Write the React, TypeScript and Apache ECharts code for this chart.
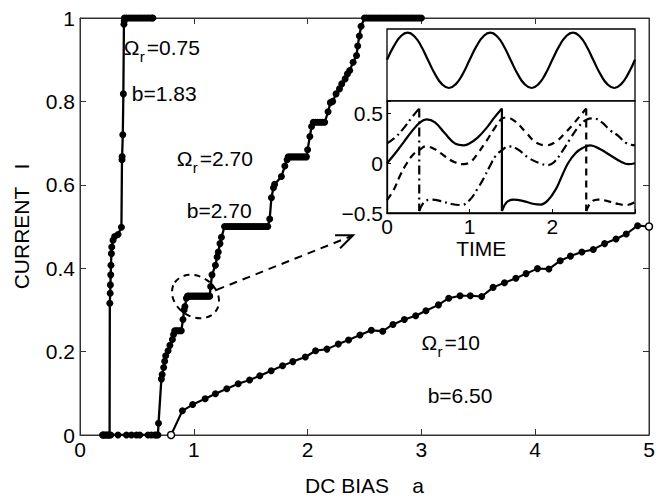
import React, { useEffect, useRef } from "react";
import * as echarts from "echarts";

const FONT = "'Liberation Sans', Arial, Helvetica, sans-serif";
const FS = 21;

// ---- tick labels ----
const xTickLabels = ["0", "1", "2", "3", "4", "5"];
const yTickLabels = ["0", "0.2", "0.4", "0.6", "0.8", "1"];
const insetXTickLabels = ["0", "1", "2"];
const insetYTickLabels = ["\u22120.5", "0", "0.5"];

// ---- main curves: [DC bias a, current I] ----
const omega075 = [
  [0.2, 0], [0.21, 0], [0.22, 0], [0.23, 0], [0.24, 0], [0.25, 0], [0.26, 0],
  [0.262, 0.316], [0.265, 0.34], [0.267, 0.36], [0.27, 0.384], [0.272, 0.407], [0.276, 0.435],
  [0.279, 0.451], [0.29, 0.467], [0.305, 0.476], [0.334, 0.481], [0.364, 0.498],
  [0.369, 0.66], [0.37, 0.668], [0.376, 0.72], [0.381, 0.818], [0.386, 0.985], [0.389, 0.993],
  [0.39, 1], [0.41, 1], [0.43, 1], [0.45, 1], [0.47, 1], [0.49, 1], [0.51, 1], [0.53, 1],
  [0.55, 1], [0.57, 1], [0.59, 1], [0.61, 1], [0.63, 1], [0.64, 1],
];

const omega270 = [
  [0.2, 0], [0.27, 0], [0.334, 0], [0.408, 0], [0.452, 0], [0.496, 0], [0.525, 0], [0.598, 0],
  [0.627, 0], [0.656, 0], [0.67, 0], [0.685, 0], [0.69, 0.028],
  [0.715, 0.134], [0.722, 0.145], [0.735, 0.162], [0.744, 0.177], [0.753, 0.19], [0.774, 0.202],
  [0.79, 0.215], [0.812, 0.229], [0.822, 0.241],
  [0.832, 0.25], [0.845, 0.25], [0.86, 0.25], [0.875, 0.25], [0.89, 0.25],
  [0.905, 0.277], [0.915, 0.3], [0.922, 0.308], [0.935, 0.328],
  [0.945, 0.333], [0.96, 0.333], [0.975, 0.333], [0.99, 0.333], [1.005, 0.333], [1.02, 0.333],
  [1.035, 0.333], [1.05, 0.333], [1.065, 0.333], [1.08, 0.333], [1.095, 0.333], [1.11, 0.333],
  [1.125, 0.333], [1.14, 0.333],
  [1.148, 0.356], [1.16, 0.384], [1.19, 0.407], [1.205, 0.427], [1.215, 0.439], [1.23, 0.459],
  [1.243, 0.474],
  [1.27, 0.5], [1.29, 0.5], [1.31, 0.5], [1.33, 0.5], [1.35, 0.5], [1.37, 0.5], [1.39, 0.5],
  [1.41, 0.5], [1.43, 0.5], [1.45, 0.5], [1.47, 0.5], [1.49, 0.5], [1.51, 0.5], [1.53, 0.5],
  [1.55, 0.5], [1.57, 0.5], [1.59, 0.5], [1.61, 0.5], [1.63, 0.5], [1.65, 0.5],
  [1.667, 0.518], [1.682, 0.569], [1.7, 0.593], [1.71, 0.601], [1.77, 0.62], [1.8, 0.645],
  [1.82, 0.66],
  [1.83, 0.667], [1.85, 0.667], [1.87, 0.667], [1.89, 0.667], [1.91, 0.667], [1.93, 0.667],
  [1.95, 0.667], [1.97, 0.667], [1.99, 0.667],
  [2.0, 0.684], [2.02, 0.716], [2.035, 0.74],
  [2.05, 0.75], [2.07, 0.75], [2.09, 0.75], [2.11, 0.75], [2.13, 0.75], [2.15, 0.75],
  [2.18, 0.775], [2.2, 0.797], [2.22, 0.8], [2.25, 0.818], [2.28, 0.83], [2.3, 0.842],
  [2.33, 0.854], [2.35, 0.866], [2.37, 0.874], [2.4, 0.894], [2.43, 0.91], [2.44, 0.933],
  [2.455, 0.957], [2.47, 0.98],
  [2.5, 1], [2.52, 1], [2.54, 1], [2.56, 1], [2.58, 1], [2.6, 1], [2.62, 1], [2.64, 1],
  [2.66, 1], [2.68, 1], [2.7, 1], [2.72, 1], [2.74, 1], [2.76, 1], [2.78, 1], [2.8, 1],
  [2.82, 1], [2.84, 1], [2.86, 1], [2.88, 1], [2.9, 1], [2.92, 1], [2.94, 1], [2.96, 1],
  [2.98, 1], [3.0, 1],
];

const omega10 = [
  [0.8, 0], [0.9, 0.058], [0.99, 0.073], [1.1, 0.087], [1.19, 0.099], [1.29, 0.111],
  [1.39, 0.123], [1.49, 0.132], [1.58, 0.142], [1.68, 0.154], [1.78, 0.166], [1.87, 0.176],
  [1.98, 0.187], [2.07, 0.202], [2.17, 0.206], [2.27, 0.218], [2.36, 0.228], [2.46, 0.24],
  [2.56, 0.251], [2.66, 0.249], [2.75, 0.265], [2.85, 0.277], [2.95, 0.286], [3.04, 0.298],
  [3.15, 0.312], [3.24, 0.328], [3.34, 0.334], [3.43, 0.334], [3.53, 0.332], [3.63, 0.354],
  [3.73, 0.365], [3.83, 0.376], [3.92, 0.387], [4.02, 0.399], [4.12, 0.398], [4.22, 0.418],
  [4.31, 0.429], [4.41, 0.439], [4.51, 0.445], [4.61, 0.459], [4.71, 0.47], [4.8, 0.482],
  [4.9, 0.502], [5.0, 0.5],
];

// ---- inset: drive signal (upper panel) [time, value] ----
const driveSignal = [
  [0, 0.02], [0.083, 0.51], [0.167, 0.87], [0.25, 1], [0.333, 0.86], [0.417, 0.49],
  [0.5, -0.02], [0.583, -0.51], [0.667, -0.87], [0.75, -1], [0.833, -0.86], [0.917, -0.49],
  [1.0, 0.02], [1.083, 0.51], [1.167, 0.87], [1.25, 1], [1.333, 0.86], [1.417, 0.49],
  [1.5, -0.02], [1.583, -0.51], [1.667, -0.87], [1.75, -1], [1.833, -0.86], [1.917, -0.49],
  [2.0, 0.02], [2.083, 0.51], [2.167, 0.87], [2.25, 1], [2.333, 0.86], [2.417, 0.49],
  [2.5, -0.02], [2.583, -0.51], [2.667, -0.87], [2.75, -1], [2.833, -0.86], [2.917, -0.49],
  [3.0, 0.02],
];

// ---- inset: phases (lower panel) [time, phase] ----
const solidA = [
  [0, 0], [0.1, 0.1], [0.2, 0.21], [0.3, 0.32], [0.4, 0.41], [0.48, 0.44], [0.58, 0.41],
  [0.7, 0.3], [0.82, 0.2], [0.93, 0.18], [1.0, 0.2], [1.1, 0.26], [1.2, 0.35], [1.3, 0.46],
  [1.39, 0.55],
];
const solidDrop = [[1.39, 0.55], [1.39, -0.48]];
const solidB = [
  [1.39, -0.48], [1.45, -0.39], [1.53, -0.365], [1.65, -0.38], [1.78, -0.41], [1.86, -0.415],
  [1.95, -0.37], [2.05, -0.25], [2.12, -0.12], [2.19, 0.0], [2.28, 0.1], [2.36, 0.15],
  [2.46, 0.18], [2.58, 0.14], [2.7, 0.08], [2.82, 0.02], [2.92, -0.01], [3.0, 0.0],
];
const dashDotA = [[0, 0.2], [0.1, 0.26], [0.2, 0.35], [0.3, 0.46], [0.39, 0.55]];
const dashDotDrop = [[0.39, 0.55], [0.39, -0.48]];
const dashDotB = [
  [0.39, -0.48], [0.45, -0.39], [0.53, -0.365], [0.65, -0.38], [0.78, -0.41], [0.9, -0.42],
  [1.0, -0.37], [1.1, -0.25], [1.17, -0.15], [1.25, -0.02], [1.32, 0.08], [1.39, 0.13],
  [1.47, 0.17], [1.58, 0.14], [1.72, 0.05], [1.85, 0.0], [1.94, -0.02], [2.02, 0.01],
  [2.12, 0.12], [2.22, 0.25], [2.32, 0.37], [2.42, 0.44], [2.5, 0.45], [2.6, 0.41],
  [2.7, 0.33], [2.79, 0.28], [2.9, 0.2], [3.0, 0.18],
];
const dashedA = [
  [0, -0.37], [0.08, -0.27], [0.16, -0.12], [0.24, 0.0], [0.32, 0.09], [0.39, 0.13],
  [0.47, 0.17], [0.58, 0.14], [0.7, 0.07], [0.82, 0.01], [0.93, -0.01], [1.02, 0.02],
  [1.1, 0.1], [1.2, 0.22], [1.3, 0.35], [1.38, 0.44], [1.45, 0.46], [1.55, 0.42],
  [1.68, 0.31], [1.8, 0.21], [1.93, 0.18], [2.05, 0.22], [2.15, 0.3], [2.25, 0.39],
  [2.33, 0.47], [2.41, 0.55],
];
const dashedDrop = [[2.41, 0.55], [2.41, -0.48]];
const dashedB = [
  [2.41, -0.48], [2.47, -0.39], [2.55, -0.365], [2.67, -0.38], [2.8, -0.41], [2.9, -0.42],
  [3.0, -0.39],
];

// ---- annotations (data coordinates of main plot) ----
const curveLabels = [
  { rest: "=0.75", omegaAt: [0.384, 0.93], b: "b=1.83", bAt: [0.455, 0.818] },
  { rest: "=2.70", omegaAt: [0.851, 0.662], b: "b=2.70", bAt: [0.938, 0.539] },
  { rest: "=10", omegaAt: [3.0, 0.221], b: "b=6.50", bAt: [3.055, 0.095] },
];
const circleCenter = [1.015, 0.332];
const arrowFrom = [1.2, 0.348];
const arrowTo = [2.4, 0.479];
const timeLabelAt = [1.14, -0.5];

export default function App() {
  const ref = useRef<HTMLDivElement>(null);

  useEffect(() => {
    document.body.style.margin = "0";
    const chart = echarts.init(ref.current!, null, { renderer: "svg" });
    const txt = { color: "#000", fontFamily: FONT, fontSize: FS };
    const frame = "#333";

    const mainLine = (data: any[], lw = 2.3) => ({
      type: "line",
      xAxisIndex: 0,
      yAxisIndex: 0,
      data,
      symbol: "circle",
      symbolSize: 7,
      showAllSymbol: true,
      lineStyle: { color: "#000", width: lw },
      itemStyle: { color: "#000" },
      z: 3,
      silent: true,
    });
    const insetLine = (data: any[], type: any, smooth: any) => ({
      type: "line",
      xAxisIndex: 3,
      yAxisIndex: 3,
      data,
      symbol: "none",
      smooth,
      lineStyle: { color: "#000", width: 2.2, type },
      z: 10,
      silent: true,
    });
    const DASH = [7, 5];
    const DASHDOT = [9, 4, 2, 4];

    const openPt = { color: "#fff", borderColor: "#000", borderWidth: 1.5 };
    const omega10Data = omega10.map((p, i) =>
      i === omega10.length - 1 || i === 0 ? { value: p, itemStyle: openPt } : p
    );

    chart.setOption({
      animation: false,
      backgroundColor: "#fff",
      grid: [
        { left: 80, right: 13, top: 18, bottom: 61, show: true, borderColor: frame, borderWidth: 1, backgroundColor: "transparent" },
        { left: 387, top: 29, width: 248, height: 72, show: true, borderColor: "#000", borderWidth: 1.3, backgroundColor: "#fff" },
        { left: 387, top: 101, width: 248, height: 112, show: true, borderColor: "#000", borderWidth: 1.3, backgroundColor: "#fff" },
      ],
      xAxis: [
        {
          type: "value", gridIndex: 0, min: 0, max: 5, interval: 1, position: "bottom",
          axisLine: { show: true, onZero: false, lineStyle: { color: frame, width: 1 } },
          axisTick: { show: true, inside: true, length: 6, lineStyle: { color: frame } },
          axisLabel: { ...txt, margin: 4, formatter: (v: number) => xTickLabels[Math.round(v)] ?? "" },
          splitLine: { show: false },
          name: "DC BIAS    a", nameLocation: "middle", nameGap: 40, nameTextStyle: { ...txt },
        },
        {
          type: "value", gridIndex: 0, min: 0, max: 5, interval: 1, position: "top",
          axisLine: { show: true, onZero: false, lineStyle: { color: frame, width: 1 } },
          axisTick: { show: true, inside: true, length: 6, lineStyle: { color: frame } },
          axisLabel: { show: false },
          splitLine: { show: false },
        },
        { type: "value", gridIndex: 1, min: 0, max: 3, show: false },
        {
          type: "value", gridIndex: 2, min: 0, max: 3, interval: 1,
          axisLine: { show: true, onZero: false, lineStyle: { color: "#000", width: 1.3 } },
          axisTick: { show: true, inside: true, length: 4, lineStyle: { color: "#000" } },
          axisLabel: { ...txt, margin: 3, formatter: (v: number) => insetXTickLabels[Math.round(v)] ?? "" },
          splitLine: { show: false },
        },
      ],
      yAxis: [
        {
          type: "value", gridIndex: 0, min: 0, max: 1, interval: 0.2, position: "left",
          axisLine: { show: true, onZero: false, lineStyle: { color: frame, width: 1 } },
          axisTick: { show: true, inside: true, length: 6, lineStyle: { color: frame } },
          axisLabel: { ...txt, margin: 5, formatter: (v: number) => yTickLabels[Math.round(v * 5)] ?? "" },
          splitLine: { show: false },
          name: "CURRENT   I", nameLocation: "middle", nameRotate: 90, nameGap: 48, nameTextStyle: { ...txt },
        },
        {
          type: "value", gridIndex: 0, min: 0, max: 1, interval: 0.2, position: "right",
          axisLine: { show: true, onZero: false, lineStyle: { color: frame, width: 1 } },
          axisTick: { show: true, inside: true, length: 6, lineStyle: { color: frame } },
          axisLabel: { show: false },
          splitLine: { show: false },
        },
        { type: "value", gridIndex: 1, min: -1.47, max: 1.13, show: false },
        {
          type: "value", gridIndex: 2, min: -0.5, max: 0.625, interval: 0.5,
          axisLine: { show: true, onZero: false, lineStyle: { color: "#000", width: 1.3 } },
          axisTick: { show: true, inside: true, length: 4, lineStyle: { color: "#000" } },
          axisLabel: {
            ...txt, margin: 4,
            formatter: (v: number) => {
              const idx = Math.round((v + 0.5) / 0.5);
              return Math.abs(v - (-0.5 + idx * 0.5)) < 1e-6 ? insetYTickLabels[idx] ?? "" : "";
            },
          },
          splitLine: { show: false },
        },
      ],
      series: [
        mainLine(omega075),
        mainLine(omega270),
        mainLine(omega10Data, 2.1),
        {
          type: "line", xAxisIndex: 2, yAxisIndex: 2, data: driveSignal, symbol: "none", smooth: 0.5,
          lineStyle: { color: "#000", width: 2.2 }, z: 10, silent: true,
        },
        insetLine(solidA, "solid", 0.4),
        insetLine(solidDrop, "solid", false),
        insetLine(solidB, "solid", 0.4),
        insetLine(dashDotA, DASHDOT, 0.4),
        insetLine(dashDotDrop, DASHDOT, false),
        insetLine(dashDotB, DASHDOT, 0.4),
        insetLine(dashedA, DASH, 0.4),
        insetLine(dashedDrop, DASH, false),
        insetLine(dashedB, DASH, 0.4),
      ],
    });

    const P = (pt: number[]) => chart.convertToPixel({ xAxisIndex: 0, yAxisIndex: 0 }, pt) as number[];
    const PI = (pt: number[]) => chart.convertToPixel({ xAxisIndex: 3, yAxisIndex: 3 }, pt) as number[];
    const font = (s: number) => `${s}px ${FONT}`;
    const textEl = (text: string, x: number, y: number, size = FS, align = "left") => ({
      type: "text", x, y, z: 30, silent: true,
      style: { text, font: font(size), fill: "#000", textAlign: align, textVerticalAlign: "middle" },
    });

    const graphics: any[] = [];
    curveLabels.forEach((c) => {
      const [ox, oy] = P(c.omegaAt);
      graphics.push(textEl("\u03A9", ox, oy));
      graphics.push(textEl("r", ox + 16, oy + 9, 15));
      graphics.push(textEl(c.rest, ox + 23, oy));
      const [bx, by] = P(c.bAt);
      graphics.push(textEl(c.b, bx, by));
    });

    const [cx, cy] = P(circleCenter);
    graphics.push({
      type: "ellipse", x: cx, y: cy, rotation: -0.6, z: 30, silent: true,
      shape: { cx: 0, cy: 0, rx: 25, ry: 20 },
      style: { fill: "none", stroke: "#000", lineWidth: 2, lineDash: [6, 5] },
    });
    const [ax1, ay1] = P(arrowFrom);
    const [ax2, ay2] = P(arrowTo);
    graphics.push({
      type: "line", z: 30, silent: true,
      shape: { x1: ax1, y1: ay1, x2: ax2 - 2, y2: ay2 + 1 },
      style: { stroke: "#000", lineWidth: 2, lineDash: [8, 6] },
    });
    graphics.push({
      type: "polyline", z: 30, silent: true,
      shape: { points: [[ax2 - 18, ay2], [ax2, ay2], [ax2 - 13, ay2 + 13]] },
      style: { stroke: "#000", lineWidth: 2, fill: "none" },
    });
    const [tx, ty] = PI(timeLabelAt);
    graphics.push(textEl("TIME", tx, ty + 35, FS, "center"));

    chart.setOption({ graphic: graphics });

    return () => chart.dispose();
  }, []);

  return <div ref={ref} style={{ width: 662, height: 501, background: "#fff" }} />;
}
